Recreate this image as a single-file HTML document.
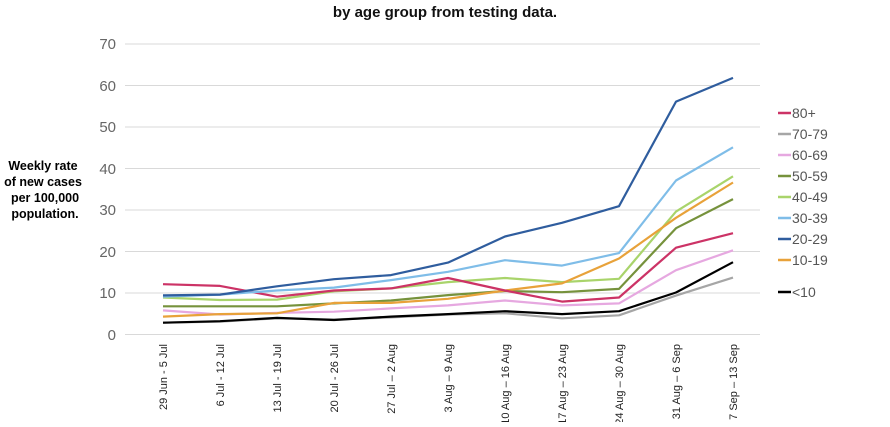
<!DOCTYPE html><html><head><style>body{margin:0;background:#fff}</style></head><body>
<svg width="890" height="422" xmlns="http://www.w3.org/2000/svg" font-family="Liberation Sans, sans-serif">
<text x="445" y="17" text-anchor="middle" font-size="15" font-weight="bold" fill="#111">by age group from testing data.</text>
<g font-size="12.5" font-weight="bold" fill="#000" text-anchor="middle">
<text x="43" y="170">Weekly rate</text><text x="43" y="186">of new cases</text><text x="45" y="202">per 100,000</text><text x="45" y="218">population.</text></g>
<g stroke="#d9d9d9" stroke-width="1">
<line x1="125" x2="760" y1="44" y2="44"/><line x1="125" x2="760" y1="85.5" y2="85.5"/><line x1="125" x2="760" y1="127" y2="127"/><line x1="125" x2="760" y1="168.5" y2="168.5"/><line x1="125" x2="760" y1="210" y2="210"/><line x1="125" x2="760" y1="251.5" y2="251.5"/><line x1="125" x2="760" y1="293" y2="293"/><line x1="125" x2="760" y1="334.5" y2="334.5"/></g>
<g font-size="15" fill="#666" text-anchor="end">
<text x="116" y="49">70</text><text x="116" y="91">60</text><text x="116" y="132">50</text><text x="116" y="174">40</text><text x="116" y="215">30</text><text x="116" y="257">20</text><text x="116" y="298">10</text><text x="116" y="340">0</text></g>
<g font-size="11" fill="#222" text-anchor="end">
<text transform="translate(167,344) rotate(-90)">29 Jun - 5 Jul</text>
<text transform="translate(224,344) rotate(-90)">6 Jul - 12 Jul</text>
<text transform="translate(281,344) rotate(-90)">13 Jul - 19 Jul</text>
<text transform="translate(338,344) rotate(-90)">20 Jul - 26 Jul</text>
<text transform="translate(395,344) rotate(-90)">27 Jul – 2 Aug</text>
<text transform="translate(452,344) rotate(-90)">3 Aug – 9 Aug</text>
<text transform="translate(509,344) rotate(-90)">10 Aug – 16 Aug</text>
<text transform="translate(566,344) rotate(-90)">17 Aug – 23 Aug</text>
<text transform="translate(623,344) rotate(-90)">24 Aug – 30 Aug</text>
<text transform="translate(680,344) rotate(-90)">31 Aug – 6 Sep</text>
<text transform="translate(737,344) rotate(-90)">7 Sep – 13 Sep</text></g>
<g fill="none" stroke-width="2.2" stroke-linejoin="round">
<polyline stroke="#a6a6a6" points="163,322.7 220,321.6 277,318.3 334,319.5 391,317.4 448,314.5 505,313.3 562,318.3 619,315.3 676,295.6 733,277.6"/>
<polyline stroke="#e6a8e0" points="163,310.4 220,314.5 277,312.9 334,311.7 391,308.4 448,305.4 505,300.5 562,305.4 619,303.4 676,270.2 733,250.3"/>
<polyline stroke="#76923c" points="163,306.3 220,306.3 277,306.3 334,303.4 391,300.5 448,295.1 505,291 562,292.2 619,288.9 676,228.2 733,199.1"/>
<polyline stroke="#a9d46b" points="163,297.5 220,300 277,299.6 334,291.3 391,288.4 448,282.1 505,278 562,282.1 619,278.8 676,211.6 733,176.3"/>
<polyline stroke="#e8a23a" points="163,316.6 220,314.1 277,313.3 334,302.9 391,302.9 448,298.8 505,290.5 562,283.4 619,258.5 676,217.8 733,182.5"/>
<polyline stroke="#cc3366" points="163,284.2 220,285.9 277,296.7 334,290.5 391,288.4 448,278 505,290.5 562,301.6 619,297.5 676,247.7 733,233.2"/>
<polyline stroke="#7fbde8" points="163,296.7 220,294.6 277,290.5 334,287.6 391,280.1 448,271.8 505,260.2 562,265.6 619,253.1 676,180.5 733,147.3"/>
<polyline stroke="#2f5d9e" points="163,295.4 220,294.6 277,286.3 334,279.2 391,275.1 448,262.6 505,236.5 562,222.8 619,206.2 676,101.6 733,77.9"/>
<polyline stroke="#000" points="163,322.7 220,321.2 277,317.9 334,320 391,316.6 448,314.1 505,311.2 562,314.1 619,311.2 676,292.5 733,262.2"/>
</g>
<g font-size="14" fill="#555">
<line x1="778" x2="791" y1="113" y2="113" stroke="#cc3366" stroke-width="2.5"/><text x="792" y="118">80+</text>
<line x1="778" x2="791" y1="134" y2="134" stroke="#a6a6a6" stroke-width="2.5"/><text x="792" y="139">70-79</text>
<line x1="778" x2="791" y1="155" y2="155" stroke="#e6a8e0" stroke-width="2.5"/><text x="792" y="160">60-69</text>
<line x1="778" x2="791" y1="176" y2="176" stroke="#76923c" stroke-width="2.5"/><text x="792" y="181">50-59</text>
<line x1="778" x2="791" y1="197" y2="197" stroke="#a9d46b" stroke-width="2.5"/><text x="792" y="202">40-49</text>
<line x1="778" x2="791" y1="218" y2="218" stroke="#7fbde8" stroke-width="2.5"/><text x="792" y="223">30-39</text>
<line x1="778" x2="791" y1="239" y2="239" stroke="#2f5d9e" stroke-width="2.5"/><text x="792" y="244">20-29</text>
<line x1="778" x2="791" y1="260" y2="260" stroke="#e8a23a" stroke-width="2.5"/><text x="792" y="265">10-19</text>
<line x1="778" x2="791" y1="292" y2="292" stroke="#000" stroke-width="2.5"/><text x="792" y="297">&lt;10</text>
</g>
</svg></body></html>
